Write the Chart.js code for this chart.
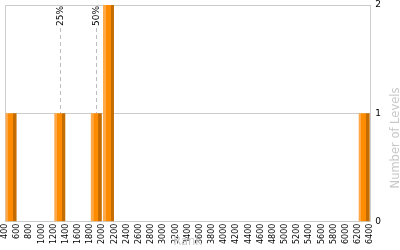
<!DOCTYPE html>
<html>
<head>
<meta charset="utf-8">
<script src="https://cdn.jsdelivr.net/npm/chart.js@4/dist/chart.umd.min.js"></script>
<style>
html,body{margin:0;padding:0;background:#fff;}
#wrap{width:400px;height:250px;position:relative;}
</style>
</head>
<body>
<div id="wrap"><canvas id="c" width="400" height="250"></canvas></div>
<script>
// Histogram bins (lower edges), 200 wide, from 400 to 6400
const binStarts = [400,600,800,1000,1200,1400,1600,1800,2000,2200,2400,2600,2800,3000,3200,3400,3600,3800,4000,4200,4400,4600,4800,5000,5200,5400,5600,5800,6000,6200];
const binWidth = 200;
const levelCounts = [1,0,0,0,1,0,0,1,2,0,0,0,0,0,0,0,0,0,0,0,0,0,0,0,0,0,0,0,0,1];
const axisMin = 400, axisMax = 6400, tickStep = 200;
const yTicks = [0,1,2];
const percentileLabels = ['25%','50%'];
const percentileValues = [1300,1900];
const xTitle = 'Rank';
const yTitle = 'Number of Levels';

const FONT = '"DejaVu Sans", Verdana, sans-serif';
const points = binStarts.map((s,i)=>({x: s + binWidth/2, y: levelCounts[i]}));

function barFill(ctx){
  const chart = ctx.chart;
  const xs = chart.scales.x;
  if (!xs || ctx.type !== 'data') return '#ff8c00';
  const v = ctx.raw.x;
  const l = xs.getPixelForValue(v - binWidth*0.45);
  const r = xs.getPixelForValue(v + binWidth*0.45);
  if (!isFinite(l) || !isFinite(r) || r <= l) return '#ff8c00';
  const g = chart.ctx.createLinearGradient(l,0,r,0);
  g.addColorStop(0,'#ffa847');
  g.addColorStop(0.24,'#ffa847');
  g.addColorStop(0.25,'#ff8c00');
  g.addColorStop(0.69,'#ff8c00');
  g.addColorStop(0.70,'#c46c00');
  g.addColorStop(1,'#c46c00');
  return g;
}

const overlay = {
  id:'overlay',
  beforeDatasetsDraw(chart){
    const c = chart.ctx, xs = chart.scales.x, a = chart.chartArea;
    c.save();
    percentileValues.forEach((v,i)=>{
      const x = Math.round(xs.getPixelForValue(v)) + 0.5;
      c.strokeStyle = '#bdbdbd';
      c.lineWidth = 1;
      c.setLineDash([4,3]);
      c.beginPath();
      c.moveTo(x, 28);
      c.lineTo(x, a.bottom);
      c.stroke();
      c.setLineDash([]);
      c.save();
      c.translate(x, 26);
      c.rotate(-Math.PI/2);
      c.fillStyle = '#000';
      c.font = '9px ' + FONT;
      c.textAlign = 'left';
      c.textBaseline = 'middle';
      c.fillText(percentileLabels[i], 0, 0);
      c.restore();
    });
    c.restore();
  },
  afterDraw(chart){
    const c = chart.ctx, a = chart.chartArea;
    c.save();
    c.fillStyle = '#c8c8c8';
    c.font = '11.5px ' + FONT;
    c.textAlign = 'center';
    c.textBaseline = 'top';
    c.fillText(xTitle, (a.left + a.right)/2, 236);
    c.translate(396, 138);
    c.rotate(-Math.PI/2);
    c.textBaseline = 'middle';
    c.fillText(yTitle, 0, 0);
    c.restore();
  }
};

new Chart(document.getElementById('c'), {
  type:'bar',
  data:{ datasets:[{ data: points, backgroundColor: barFill, borderWidth:0, barPercentage:0.9, categoryPercentage:1.0 }]},
  options:{
    responsive:false,
    devicePixelRatio:1,
    animation:false,
    layout:{ padding:{ left:5, right:14, top:5, bottom:4 } },
    plugins:{ legend:{display:false}, tooltip:{enabled:false} },
    scales:{
      x:{
        type:'linear',
        offset:false,
        min:axisMin, max:axisMax,
        grid:{ offset:false, drawTicks:false, color:(ctx)=> ctx.index===0 ? '#cccccc' : 'rgba(0,0,0,0)' },
        border:{ color:'#cccccc' },
        ticks:{ stepSize:tickStep, autoSkip:false, minRotation:90, maxRotation:90, padding:2, color:'#000', font:{family:FONT, size:8}, callback:(v)=>String(v) }
      },
      y:{
        position:'right',
        min:yTicks[0], max:yTicks[yTicks.length-1],
        grid:{ drawTicks:false, color:'#cccccc' },
        border:{ color:'#cccccc' },
        ticks:{ stepSize:1, padding:5, color:'#000', font:{family:FONT, size:9}, callback:(v)=> yTicks.includes(v) ? String(v) : '' },
        afterFit:(s)=>{ s.paddingTop = 0; s.paddingBottom = 0; }
      }
    }
  },
  plugins:[overlay]
});
</script>
</body>
</html>
